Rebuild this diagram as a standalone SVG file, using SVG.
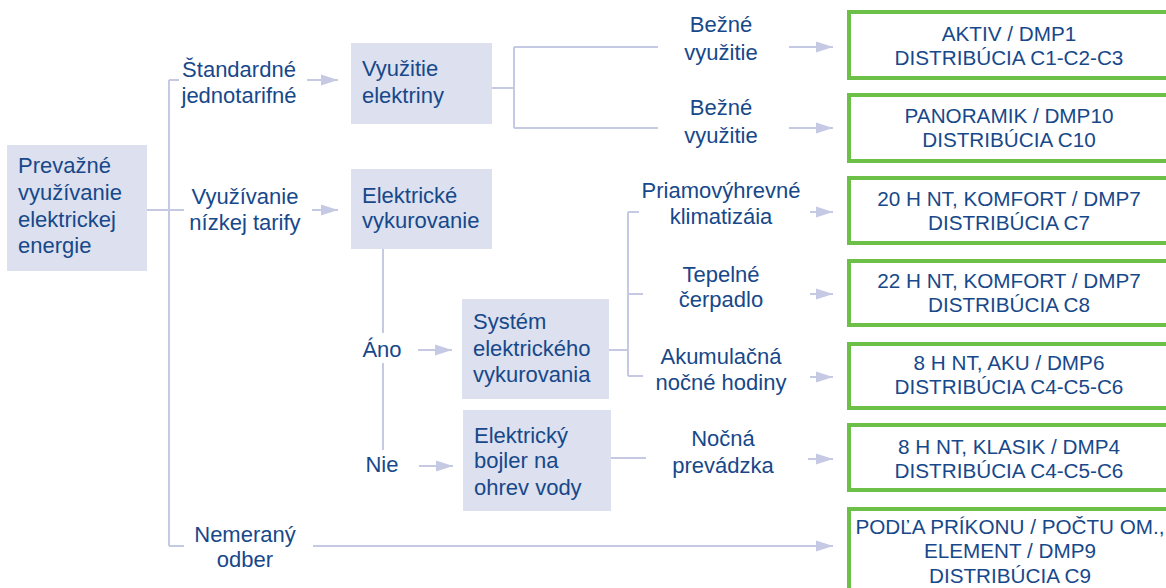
<svg xmlns="http://www.w3.org/2000/svg" width="1166" height="588" viewBox="0 0 1166 588">
<defs>
<style>
.box{fill:#DCE0EF;}
.res{fill:#FFFFFF;stroke:#6CBF47;stroke-width:4;}
text{font-family:"Liberation Sans",Arial,sans-serif;font-size:22px;fill:#17488A;}
.c{text-anchor:middle;}
.g{font-size:20.7px;}
.ln{stroke:#C5C9E3;stroke-width:2;fill:none;}
.ar{stroke:#C5C9E3;stroke-width:2;fill:none;marker-end:url(#ah);}
</style>
<marker id="ah" markerUnits="userSpaceOnUse" markerWidth="17" markerHeight="12" refX="17" refY="6" orient="auto">
<path d="M0,0.5 L17,6 L0,11.5 z" fill="#C5C9E3"/>
</marker>
</defs>
<rect width="1166" height="588" fill="#FFFFFF"/>
<g id="connectors">
<path class="ln" d="M169,80 V546 M169,80 H179 M147,210 H184 M169,546 H184"/>
<path class="ar" d="M307,80 H338"/>
<path class="ar" d="M312,210 H338"/>
<path class="ar" d="M313,546 H833"/>
<path class="ln" d="M492,88 H514 M514,47 V128 M514,47 H658 M514,128 H658"/>
<path class="ar" d="M789,47 H833"/>
<path class="ar" d="M789,128 H833"/>
<path class="ln" d="M383,249 V333 M383,363 V450"/>
<path class="ar" d="M418,350 H452"/>
<path class="ar" d="M419,466 H453"/>
<path class="ln" d="M609,350 H628 M628,212 V376 M628,212 H639 M628,294 H643 M628,376 H643"/>
<path class="ar" d="M810,212 H833"/>
<path class="ar" d="M810,294 H833"/>
<path class="ar" d="M810,377 H833"/>
<path class="ln" d="M611,458 H646"/>
<path class="ar" d="M808,459 H833"/>
</g>
<g id="n-prevazne">
<rect class="box" x="7" y="145" width="140" height="126"/>
<text x="18" y="173">Prevažné</text>
<text x="18" y="200">využívanie</text>
<text x="18" y="227">elektrickej</text>
<text x="18" y="253">energie</text>
</g>
<g id="l-standardne">
<text class="c" x="239" y="77">Štandardné</text>
<text class="c" x="239" y="103">jednotarifné</text>
</g>
<g id="l-nizka">
<text class="c" x="245" y="204">Využívanie</text>
<text class="c" x="245" y="230">nízkej tarify</text>
</g>
<g id="l-nemerany">
<text class="c" x="245" y="542">Nemeraný</text>
<text class="c" x="245" y="567">odber</text>
</g>
<g id="n-vyuzitie">
<rect class="box" x="351" y="43" width="141" height="81"/>
<text x="362" y="76">Využitie</text>
<text x="362" y="103">elektriny</text>
</g>
<g id="n-vykurovanie">
<rect class="box" x="351" y="169" width="141" height="80"/>
<text x="362" y="203">Elektrické</text>
<text x="362" y="228">vykurovanie</text>
</g>
<g id="l-ano"><text class="c" x="382" y="357">Áno</text></g>
<g id="l-nie"><text class="c" x="382" y="472">Nie</text></g>
<g id="n-system">
<rect class="box" x="462" y="299" width="147" height="100"/>
<text x="473" y="329">Systém</text>
<text x="473" y="356">elektrického</text>
<text x="473" y="382">vykurovania</text>
</g>
<g id="n-bojler">
<rect class="box" x="463" y="410" width="148" height="101"/>
<text x="474" y="443">Elektrický</text>
<text x="474" y="468">bojler na</text>
<text x="474" y="495">ohrev vody</text>
</g>
<g id="l-bezne1">
<text class="c" x="721" y="32">Bežné</text>
<text class="c" x="721" y="60">využitie</text>
</g>
<g id="l-bezne2">
<text class="c" x="721" y="115">Bežné</text>
<text class="c" x="721" y="143">využitie</text>
</g>
<g id="l-priamo">
<text class="c" x="721" y="198">Priamovýhrevné</text>
<text class="c" x="721" y="224">klimatizáia</text>
</g>
<g id="l-tepelne">
<text class="c" x="721" y="282">Tepelné</text>
<text class="c" x="721" y="307">čerpadlo</text>
</g>
<g id="l-akum">
<text class="c" x="721" y="364">Akumulačná</text>
<text class="c" x="721" y="390">nočné hodiny</text>
</g>
<g id="l-nocna">
<text class="c" x="723" y="446">Nočná</text>
<text class="c" x="723" y="473">prevádzka</text>
</g>
<g id="r-aktiv">
<rect class="res" x="849" y="12" width="330" height="66"/>
<text class="c g" x="1009" y="41">AKTIV / DMP1</text>
<text class="c g" x="1009" y="65">DISTRIBÚCIA C1-C2-C3</text>
</g>
<g id="r-panoramik">
<rect class="res" x="849" y="95" width="330" height="66"/>
<text class="c g" x="1009" y="123">PANORAMIK / DMP10</text>
<text class="c g" x="1009" y="147">DISTRIBÚCIA C10</text>
</g>
<g id="r-c7">
<rect class="res" x="849" y="178" width="330" height="65"/>
<text class="c g" x="1009" y="206">20 H NT, KOMFORT / DMP7</text>
<text class="c g" x="1009" y="230">DISTRIBÚCIA C7</text>
</g>
<g id="r-c8">
<rect class="res" x="849" y="261" width="330" height="64"/>
<text class="c g" x="1009" y="288">22 H NT, KOMFORT / DMP7</text>
<text class="c g" x="1009" y="312">DISTRIBÚCIA C8</text>
</g>
<g id="r-aku">
<rect class="res" x="849" y="344" width="330" height="64"/>
<text class="c g" x="1009" y="370">8 H NT, AKU / DMP6</text>
<text class="c g" x="1009" y="394">DISTRIBÚCIA C4-C5-C6</text>
</g>
<g id="r-klasik">
<rect class="res" x="849" y="425" width="330" height="65"/>
<text class="c g" x="1009" y="454">8 H NT, KLASIK / DMP4</text>
<text class="c g" x="1009" y="478">DISTRIBÚCIA C4-C5-C6</text>
</g>
<g id="r-element">
<rect class="res" x="849" y="509" width="330" height="100"/>
<text class="c g" x="1010" y="534">PODĽA PRÍKONU / POČTU OM.,</text>
<text class="c g" x="1010" y="558">ELEMENT / DMP9</text>
<text class="c g" x="1010" y="583">DISTRIBÚCIA C9</text>
</g>
</svg>
